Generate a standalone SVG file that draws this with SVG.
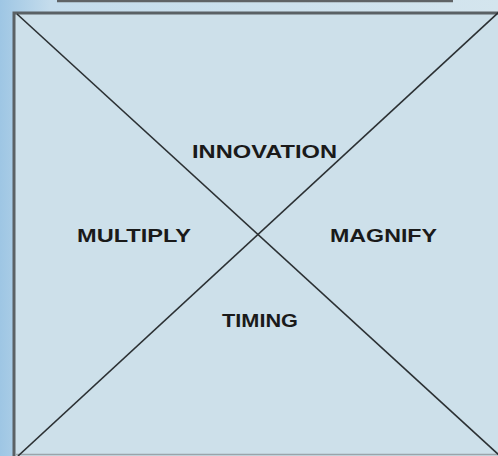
<svg xmlns="http://www.w3.org/2000/svg" width="498" height="456" viewBox="0 0 498 456">
<defs>
<linearGradient id="bg" x1="0" y1="0" x2="1" y2="0">
<stop offset="0" stop-color="#9ec6e4"/>
<stop offset="0.1" stop-color="#c4dcec"/>
<stop offset="1" stop-color="#d4e5ee"/>
</linearGradient>
<style>
.lbl{font-family:"Liberation Sans",Arial,sans-serif;font-weight:bold;font-size:18px;fill:#1a1a1a}
.diag{stroke:#2b3033;stroke-width:1.6;fill:none}
</style>
</defs>
<rect x="0" y="0" width="498" height="456" fill="url(#bg)"/>
<line x1="57" y1="1" x2="453" y2="1" stroke="#5f6366" stroke-width="2.5"/>
<g id="frame">
<rect x="14" y="13" width="490" height="447" fill="#cde0ea" stroke="#5a6165" stroke-width="3"/>
<line x1="15.5" y1="454.5" x2="498" y2="454.5" stroke="#9aa4aa" stroke-width="1.5"/>
</g>
<g id="connectors">
<line class="diag" x1="17" y1="14" x2="500" y2="456"/>
<line class="diag" x1="499" y1="12" x2="18" y2="456"/>
</g>
<g id="innovation"><text class="lbl" x="192" y="158" textLength="145" lengthAdjust="spacingAndGlyphs">INNOVATION</text></g>
<g id="multiply"><text class="lbl" x="77" y="242" textLength="114" lengthAdjust="spacingAndGlyphs">MULTIPLY</text></g>
<g id="magnify"><text class="lbl" x="330" y="242" textLength="107" lengthAdjust="spacingAndGlyphs">MAGNIFY</text></g>
<g id="timing"><text class="lbl" x="222" y="327" textLength="76" lengthAdjust="spacingAndGlyphs">TIMING</text></g>
</svg>
